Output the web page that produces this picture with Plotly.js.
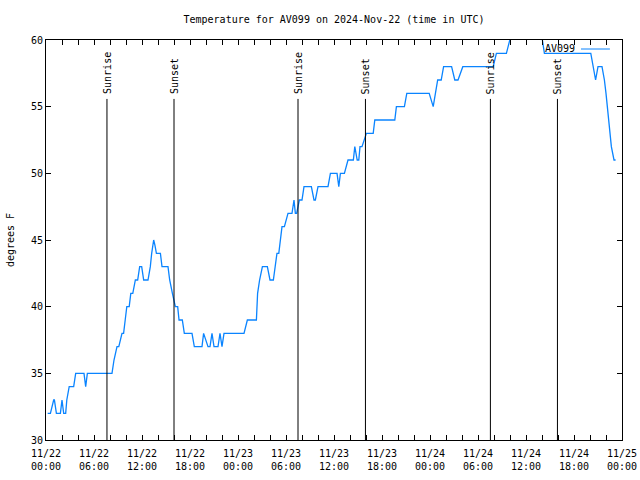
<!DOCTYPE html>
<html>
<head>
<meta charset="utf-8">
<script src="https://cdn.plot.ly/plotly-3.0.1.min.js"></script>
<style>html,body{margin:0;padding:0;background:#fff;}#chart{width:640px;height:480px;}</style>
</head>
<body>
<div id="chart"></div>
<script>
// Hours since 2024-11-22 00:00 UTC
var hoursUTC = [0.21,0.55,0.96,1.05,1.3,1.8,2.0,2.21,2.46,2.6,2.9,3.46,3.71,4.75,4.96,5.17,8.25,8.5,8.875,9.1,9.5,9.7,9.9,10.1,10.4,10.6,10.85,11.17,11.46,11.71,11.96,12.21,12.75,13.04,13.21,13.46,13.62,13.8,14.3,14.5,15.25,15.46,15.8,16.17,16.46,16.63,17.04,17.29,18.25,18.54,19.5,19.7,20.25,20.5,20.75,21.0,21.5,21.75,22.0,22.25,24.75,25.17,26.3,26.45,26.7,27.05,27.67,28.0,28.42,28.6,28.87,29.1,29.5,29.8,30.25,30.75,31.0,31.17,31.33,31.67,32.0,32.25,33.17,33.5,33.67,34.0,35.25,35.55,36.38,36.6,36.8,37.3,37.75,38.42,38.6,38.9,39.1,39.25,39.5,40.05,40.9,41.1,43.6,43.8,44.8,45.1,47.9,48.4,48.96,49.4,49.7,50.7,51.1,51.5,52.1,55.9,56.3,57.55,57.96,58.4,61.6,62.05,62.3,68.1,68.7,69.0,69.5,69.8,70.0,70.25,70.5,70.67,71.0,71.2];
var tempF = [32,32,33,33,32,32,33,32,32,33,34,34,35,35,34,35,35,36,37,37,38,38,39,40,40,41,41,42,42,43,43,42,42,43,44,45,44.6,44,44,43,43,42,41,40,40,39,39,38,38,37,37,38,37,37,38,37,37,38,37,38,38,39,39,41,42,43,43,42,42,43,44,44,46,46,47,47,48,47,47,48,48,49,49,48,48,49,49,50,50,49,50,50,51,51,52,51,51,52,52,53,53,54,54,55,55,56,56,55,57,57,58,58,57,57,58,58,59,59,60,61,61,60,59,59,57,58,58,57,56,54.6,53,52,51,51];

var sunHours = [7.62, 16.0, 31.5, 39.93, 55.55, 63.93];
var sunLabels = ['Sunrise','Sunset','Sunrise','Sunset','Sunrise','Sunset'];
var sunLineTop = 55.58;

var seriesName = 'AV099';
var titleText = 'Temperature for AV099 on 2024-Nov-22 (time in UTC)';
var yLabel = 'degrees F';

var base = Date.UTC(2024, 10, 22, 0, 0, 0);
function toDate(h) {
  var d = new Date(base + h * 3600000);
  return d.toISOString().slice(0, 19).replace('T', ' ');
}
var xDates = hoursUTC.map(toDate);

var lineColor = '#0a84ff';
var font = {family: 'DejaVu Sans Mono, Liberation Mono, monospace', size: 10, color: '#000'};

var shapes = [];
var annotations = [];
for (var i = 0; i < sunHours.length; i++) {
  shapes.push({type: 'line', xref: 'x', yref: 'y', x0: toDate(sunHours[i]), x1: toDate(sunHours[i]), y0: 30, y1: sunLineTop, line: {color: '#000', width: 1}});
  annotations.push({xref: 'x', yref: 'paper', x: toDate(sunHours[i]), y: 0.86, text: sunLabels[i], textangle: -90, showarrow: false, xanchor: 'center', yanchor: 'bottom', font: font});
}
// gnuplot-style key: text then sample line
annotations.push({xref: 'paper', yref: 'paper', x: 0.922, y: 0.9775, text: seriesName, showarrow: false, xanchor: 'right', yanchor: 'middle', font: font, bgcolor: 'rgba(0,0,0,0)'});
shapes.push({type: 'line', xref: 'paper', yref: 'paper', x0: 0.9288, x1: 0.979, y0: 0.9775, y1: 0.9775, line: {color: lineColor, width: 1}});

var trace = {
  x: xDates, y: tempF, type: 'scatter', mode: 'lines', name: seriesName,
  line: {color: lineColor, width: 1.3}, hoverinfo: 'skip'
};

var layout = {
  width: 640, height: 480,
  margin: {l: 46, r: 18, t: 40, b: 40, pad: 0},
  paper_bgcolor: '#fff', plot_bgcolor: '#fff',
  font: font,
  showlegend: false,
  title: {text: titleText, font: font, x: 0.5, xref: 'paper', y: 1 - 19/480, yref: 'container', yanchor: 'middle'},
  xaxis: {
    type: 'date', range: [toDate(0), toDate(72)],
    tickmode: 'linear', tick0: toDate(0), dtick: 6 * 3600000,
    tickformat: '%m/%d<br>%H:%M',
    ticks: 'inside', ticklen: 5, tickcolor: '#000', tickwidth: 1,
    ticklabelstandoff: 4,
    minor: {dtick: 2 * 3600000, ticks: 'inside', ticklen: 5, tickcolor: '#000', tickwidth: 1, showgrid: false},
    showline: true, linecolor: '#000', linewidth: 1, mirror: 'allticks',
    showgrid: false, zeroline: false, tickfont: font, automargin: false
  },
  yaxis: {
    range: [30, 60], tickmode: 'linear', tick0: 30, dtick: 5,
    ticks: 'inside', ticklen: 5, tickcolor: '#000', tickwidth: 1,
    showline: true, linecolor: '#000', linewidth: 1, mirror: 'allticks',
    showgrid: false, zeroline: false, tickfont: font, automargin: false,
    title: {text: yLabel, font: font, standoff: 14}
  },
  shapes: shapes,
  annotations: annotations
};

Plotly.newPlot('chart', [trace], layout, {displayModeBar: false, staticPlot: true});
</script>
</body>
</html>
